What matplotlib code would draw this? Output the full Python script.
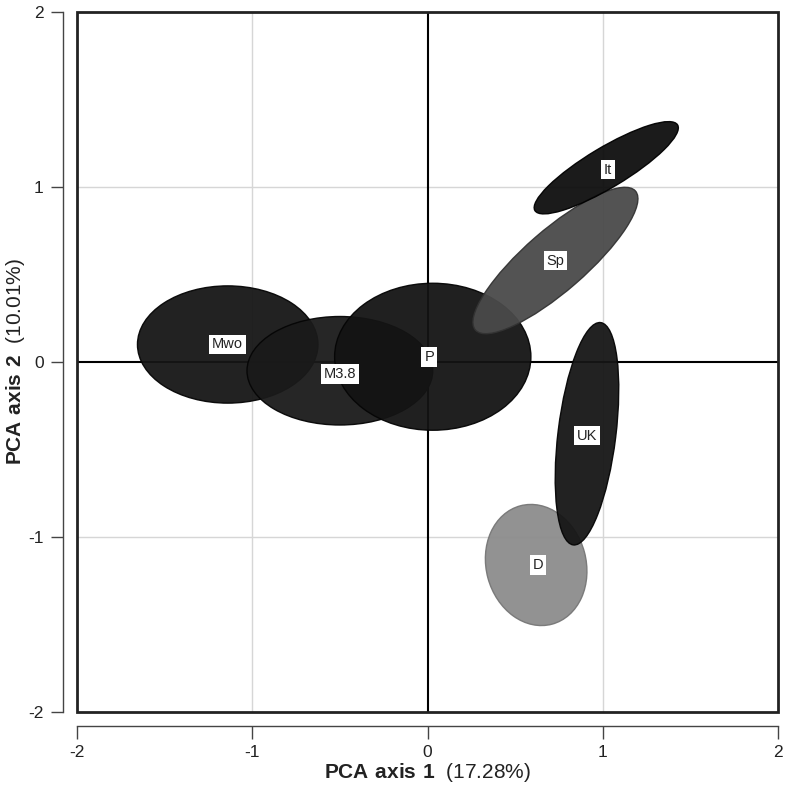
import matplotlib
matplotlib.use('Agg')
import matplotlib.pyplot as plt
from matplotlib.patches import Ellipse, Rectangle

plt.rcParams['font.family'] = ['Liberation Sans', 'DejaVu Sans']
plt.rcParams['mathtext.fontset'] = 'custom'
plt.rcParams['mathtext.bf'] = 'Liberation Sans:bold'
plt.rcParams['mathtext.rm'] = 'Liberation Sans'

# group ellipses
groups = ['Mwo', 'M3.8', 'P', 'Sp', 'It', 'D', 'UK']
center_x = [-1.14, -0.50, 0.03, 0.73, 1.02, 0.62, 0.91]
center_y = [0.10, -0.05, 0.03, 0.58, 1.11, -1.16, -0.41]
width = [1.03, 1.06, 1.12, 1.21, 0.95, 0.70, 1.28]
height = [0.67, 0.62, 0.84, 0.35, 0.23, 0.57, 0.33]
angle = [0, 0, 0, 41, 31, 105, 83]
label_x = [-1.14, -0.50, 0.01, 0.73, 1.03, 0.63, 0.91]
label_y = [0.10, -0.07, 0.03, 0.58, 1.10, -1.16, -0.42]
ticks = [-2, -1, 0, 1, 2]

fills = ['#161616', '#1a1a1a', '#141414', '#4a4a4a', '#0e0e0e', '#8c8c8c', '#161616']
edges = ['#050505', '#050505', '#050505', '#333333', '#000000', '#777777', '#050505']

fig = plt.figure(figsize=(7.85, 7.97), dpi=100)
ax = fig.add_axes([77 / 785, 1 - 712 / 797, 701 / 785, 700 / 797])
ax.set_xlim(-2, 2)
ax.set_ylim(-2, 2)

for v in [-1, 1]:
    ax.axvline(v, color='#d6d6d6', lw=1, zorder=0)
    ax.axhline(v, color='#d6d6d6', lw=1, zorder=0)
ax.axvline(0, color='black', lw=1.5, zorder=1)
ax.axhline(0, color='black', lw=1.5, zorder=1)

for i in range(len(groups)):
    e = Ellipse((center_x[i], center_y[i]), width[i], height[i], angle=angle[i],
                facecolor=fills[i], edgecolor=edges[i], lw=1, alpha=0.95, zorder=2 + i)
    ax.add_patch(e)

for i in range(len(groups)):
    ax.text(label_x[i], label_y[i], groups[i], ha='center', va='center', fontsize=10.5,
            color='#222', zorder=20,
            bbox=dict(boxstyle='square,pad=0.2', fc='white', ec='none'))

ax.add_patch(Rectangle((0, 0), 1, 1, transform=ax.transAxes, fill=False,
                       lw=2, ec='#222', zorder=30, clip_on=False))

for s in ['top', 'right']:
    ax.spines[s].set_visible(False)
for s in ['left', 'bottom']:
    ax.spines[s].set_position(('outward', 10))
    ax.spines[s].set_bounds(-2, 2)
    ax.spines[s].set_color('#444')
    ax.spines[s].set_linewidth(1)

ax.set_xticks(ticks)
ax.set_yticks(ticks)
ax.set_xticklabels([str(t) for t in ticks])
ax.set_yticklabels([str(t) for t in ticks])
ax.tick_params(length=9, width=1, color='#444', labelsize=12.5, pad=5, labelcolor='#222')

ax.set_xlabel(r'$\bf{PCA\ axis\ 1}$  (17.28%)', fontsize=15, color='#222', va='center')
ax.set_ylabel(r'$\bf{PCA\ axis\ 2}$  (10.01%)', fontsize=15, color='#222', va='center')
ax.xaxis.set_label_coords(0.5, -0.087)
ax.yaxis.set_label_coords(-0.088, 0.5)

fig.savefig('out.png', dpi=100)
